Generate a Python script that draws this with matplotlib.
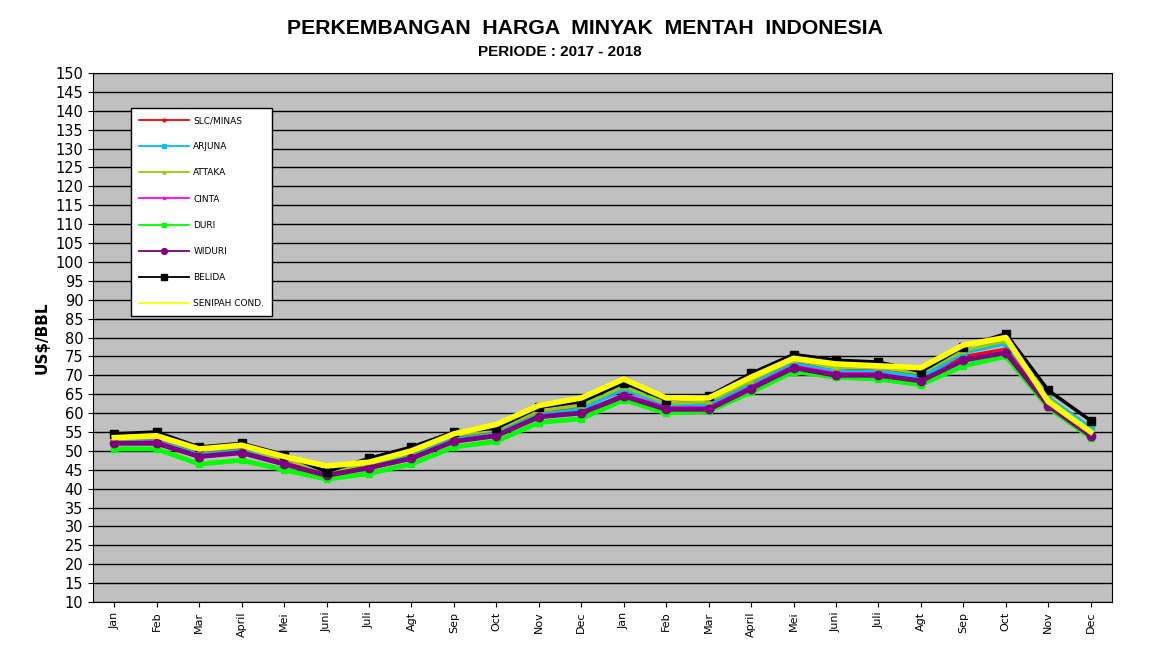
import matplotlib
matplotlib.use("Agg")
import matplotlib.pyplot as plt

months = ["Jan","Feb","Mar","April","Mei","Juni","Juli","Agt","Sep","Oct","Nov","Dec",
          "Jan","Feb","Mar","April","Mei","Juni","Juli","Agt","Sep","Oct","Nov","Dec"]
slc_minas = [53,53,49.5,50.5,47.5,44,46,49,53.5,55,60.5,61.5,66,62.5,63,68,73.5,71,72,70,75,77,63,55.5]
arjuna = [52.5,52.5,49,50,47,44,46,48.5,53,54.5,59.5,61,66.5,62,62,67.5,73,71,71,69.5,76,78.5,64,56]
attaka = [53,53.5,50,51,47.5,44.5,46.5,49.5,54,55.5,60.5,62,67,62.5,63,68.5,74,72,72,70.5,76.5,79,64,55]
cinta = [52,52.5,48.5,49.5,47,43.5,45.5,48,52.5,54,59,60,65,61.5,61.5,67,72.5,70.5,70.5,68.5,74,76.5,62.5,54]
duri = [50.5,50.5,46.5,47.5,45,42.5,44,46.5,51,52.5,57.5,58.5,63.5,60,60.5,65.5,71,69.5,69,67.5,72.5,75,61.5,53.5]
widuri = [52,52,48.5,49.5,46.5,43.5,45.5,48,52.5,54,59,60,64.5,61,61,66.5,72,70,70,68.5,74,76,62,54]
belida = [54.5,55,51,52,49,44.5,48,51,55,56,61.5,63,68,63.5,64.5,70.5,75.5,74,73.5,71,77.5,81,66,58]
senipah = [53.5,54,50.5,51.5,48.5,46,47,50,54.5,57,62,64,69,64,64,69.5,74.5,73,72.5,72,78,80,63,55]

W, H = 1149, 645
fig = plt.figure(figsize=(W/100, H/100), dpi=100)
ax = fig.add_axes([93/W, 1-602/H, (1112-93)/W, (602-73)/H])
ax.set_facecolor("#C0C0C0")
x = list(range(len(months)))
series = [
    ("SLC/MINAS", slc_minas, "#FF0000", "D", 2, 2.5),
    ("ARJUNA", arjuna, "#00C0F0", "s", 3, 4),
    ("ATTAKA", attaka, "#99CC00", "^", 2, 3),
    ("CINTA", cinta, "#FF00FF", "s", 2, 3),
    ("DURI", duri, "#00FF00", "s", 3.5, 5),
    ("WIDURI", widuri, "#800080", "o", 3.5, 6),
    ("BELIDA", belida, "#000000", "s", 2.5, 6),
    ("SENIPAH COND.", senipah, "#FFFF00", None, 4, 0),
]
for name, vals, c, m, lw, ms in series:
    ax.plot(x, vals, color=c, marker=m, lw=lw, ms=ms, label=name)
ax.set_xlim(-0.5, 23.5)
ax.set_ylim(10, 150)
ax.set_yticks(range(10, 151, 5))
ax.set_xticks(x)
ax.set_xticklabels(months, rotation=90, fontsize=8)
ax.tick_params(axis="y", labelsize=10.5)
ax.yaxis.grid(True, color="black", lw=1)
ax.set_axisbelow(True)
ax.set_ylabel("US$/BBL", fontsize=11, fontweight="bold")
fig.text(585/W, 1-28/H, "PERKEMBANGAN  HARGA  MINYAK  MENTAH  INDONESIA", ha="center", va="center",
         fontsize=15.3, fontweight="bold", family="Liberation Sans")
fig.text(560/W, 1-52/H, "PERIODE : 2017 - 2018", ha="center", va="center",
         fontsize=11, fontweight="bold", family="Liberation Sans")
leg = ax.legend(loc="upper left", bbox_to_anchor=((131-93)/(1112-93), 1-(108-73)/(602-73)),
                fontsize=6.5, frameon=True, fancybox=False, edgecolor="black",
                labelspacing=1.9, handlelength=5.5, borderpad=0.9, borderaxespad=0,
                handletextpad=0.5, markerscale=0.7)
for h in leg.get_lines():
    h.set_linewidth(1.3)
leg.get_frame().set_facecolor("white")
leg.get_frame().set_alpha(1)
fig.canvas.draw()
bb = leg.get_window_extent()
fig.savefig("out.png", dpi=100)
